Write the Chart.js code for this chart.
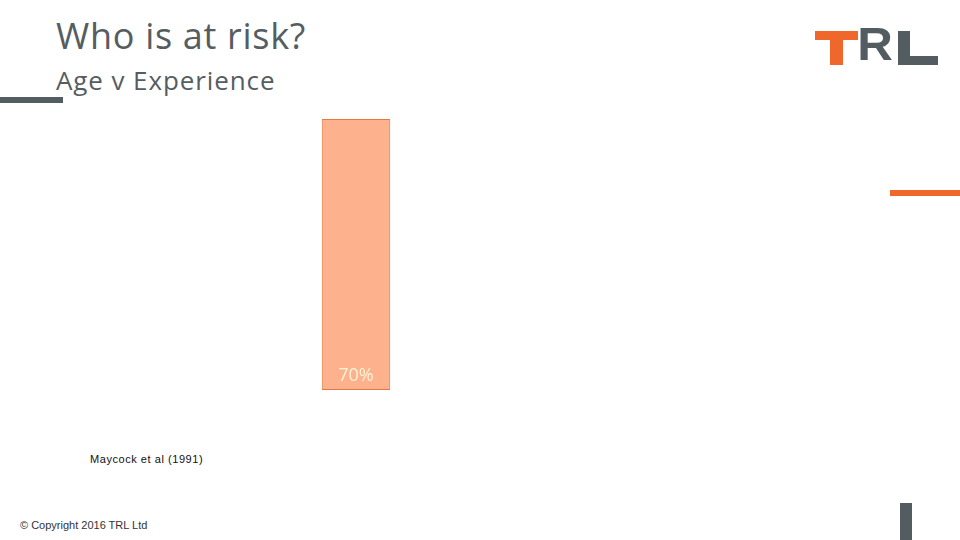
<!DOCTYPE html>
<html>
<head>
<meta charset="utf-8">
<script src="https://cdn.jsdelivr.net/npm/chart.js@4"></script>
<style>
  html, body { margin: 0; padding: 0; background: #fff; }
  body { width: 960px; height: 540px; position: relative; overflow: hidden; font-family: "Open Sans", "Liberation Sans", sans-serif; }
  .abs { position: absolute; }
  #title { left: 56px; top: 11px; font-size: 36px; letter-spacing: 0.7px; color: #555d61; white-space: nowrap; }
  #subtitle { left: 56px; top: 62px; font-size: 26px; letter-spacing: 0.9px; color: #555d61; white-space: nowrap; }
  #src { left: 90px; top: 453px; font-size: 11px; letter-spacing: 0.55px; color: #111; font-family: "Liberation Sans", sans-serif; }
  #copy { left: 20px; top: 519px; font-size: 11px; color: #333; font-family: "Liberation Sans", sans-serif; }
  #wrap { left: 320px; top: 118px; width: 72px; height: 274px; }
</style>
</head>
<body>
<div class="abs" id="title">Who is at risk?</div>
<div class="abs" id="subtitle">Age v Experience</div>
<div class="abs" style="left:0;top:97px;width:63px;height:6px;background:#535c60"></div>
<div class="abs" style="left:890px;top:190px;width:70px;height:6px;background:#f0672b"></div>
<div class="abs" style="left:900px;top:503px;width:12px;height:37px;background:#535c60"></div>
<!-- logo -->
<div class="abs" style="left:815px;top:31px;width:43px;height:9px;background:#f0672b"></div>
<div class="abs" style="left:830px;top:31px;width:13px;height:34px;background:#f0672b"></div>
<div class="abs" style="left:858px;top:20px;font-size:47px;font-weight:700;color:#535c60;font-family:'Liberation Sans',sans-serif;line-height:1;transform:scaleX(1.05)">R</div>
<div class="abs" style="left:898px;top:31px;width:12px;height:34px;background:#535c60"></div>
<div class="abs" style="left:898px;top:56px;width:40px;height:9px;background:#535c60"></div>
<div class="abs" id="src">Maycock et al (1991)</div>
<div class="abs" id="copy">© Copyright 2016 TRL Ltd</div>
<div class="abs" id="wrap"><canvas id="c"></canvas></div>
<script>
const categories = ['Novice drivers'];
const values = [70];
const valueLabels = ['70%'];

const labelPlugin = {
  id: 'barLabels',
  afterDatasetsDraw(chart) {
    const ctx = chart.ctx;
    const meta = chart.getDatasetMeta(0);
    ctx.save();
    ctx.font = '18px "Open Sans", sans-serif';
    ctx.fillStyle = '#fff4d6';
    ctx.textAlign = 'center';
    ctx.textBaseline = 'bottom';
    meta.data.forEach((bar, i) => {
      ctx.fillText(valueLabels[i], bar.x, bar.base - 5);
    });
    ctx.restore();
  }
};

new Chart(document.getElementById('c'), {
  type: 'bar',
  data: {
    labels: categories,
    datasets: [{
      data: values,
      backgroundColor: '#fdb18c',
      borderColor: '#e9773f',
      borderWidth: 1,
      borderSkipped: false,
      categoryPercentage: 1,
      barPercentage: 0.95
    }]
  },
  options: {
    responsive: true,
    maintainAspectRatio: false,
    animation: false,
    layout: { padding: { top: 1, bottom: 2 } },
    plugins: { legend: { display: false }, tooltip: { enabled: false } },
    scales: {
      x: { display: false },
      y: { display: false, min: 0, max: 70 }
    }
  },
  plugins: [labelPlugin]
});
</script>
</body>
</html>
